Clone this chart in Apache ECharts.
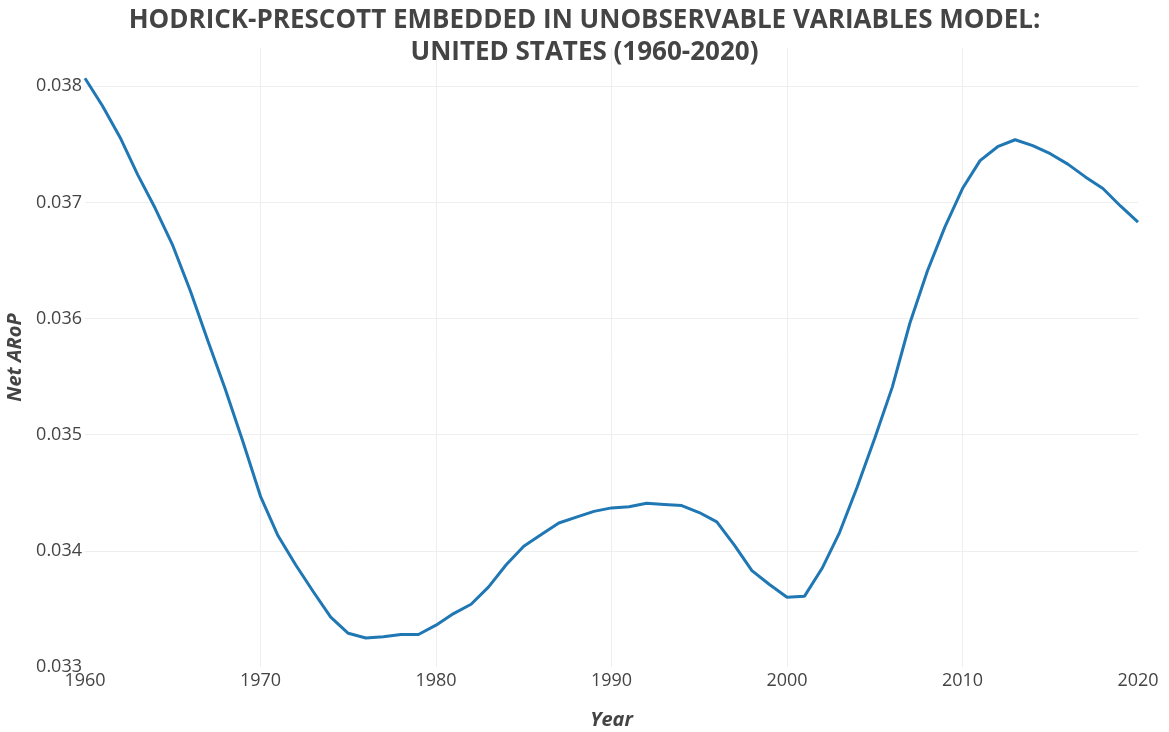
<!DOCTYPE html>
<html>
<head>
<meta charset="utf-8">
<script src="https://cdn.jsdelivr.net/npm/echarts@6/dist/echarts.min.js"></script>
<style>
  html, body { margin: 0; padding: 0; background: #fff; }
  #chart { width: 1169px; height: 732px; }
</style>
</head>
<body>
<div id="chart"></div>
<script>
const years = [];
for (let y = 1960; y <= 2020; y++) years.push(y);

// Net ARoP, HP trend
const netArop = [
  0.03807, 0.03783, 0.03756, 0.03724, 0.03695, 0.03663, 0.03624, 0.03581, 0.03539, 0.03494,
  0.03447, 0.03413, 0.03388, 0.03365, 0.03343, 0.03329, 0.03325, 0.03326, 0.03328, 0.03328,
  0.03336, 0.03346, 0.03354, 0.03369, 0.03388, 0.03404, 0.03414, 0.03424, 0.03429, 0.03434,
  0.03437, 0.03438, 0.03441, 0.03440, 0.03439, 0.03433, 0.03425, 0.03405, 0.03383, 0.03371,
  0.03360, 0.03361, 0.03385, 0.03416, 0.03455, 0.03497, 0.03541, 0.03596, 0.03641, 0.03679,
  0.03712, 0.03736, 0.03748, 0.03754, 0.03749, 0.03742, 0.03733, 0.03722, 0.03712, 0.03697,
  0.03683
];

const yTicks = [0.033, 0.034, 0.035, 0.036, 0.037, 0.038];

const chart = echarts.init(document.getElementById('chart'));

chart.setOption({
  animation: false,
  textStyle: { fontFamily: 'Open Sans' },
  title: {
    text: 'HODRICK-PRESCOTT EMBEDDED IN UNOBSERVABLE VARIABLES MODEL:\nUNITED STATES (1960-2020)',
    left: 'center',
    top: 0,
    textStyle: {
      fontFamily: 'Open Sans',
      fontWeight: 'bold',
      fontSize: 26,
      lineHeight: 32,
      color: '#444'
    }
  },
  grid: { left: 85, right: 31, top: 48, bottom: 65, outerBoundsMode: 'none' },
  xAxis: {
    type: 'value',
    min: 1960,
    max: 2020,
    interval: 10,
    name: 'Year',
    nameLocation: 'middle',
    nameGap: 43,
    nameTextStyle: { fontSize: 20, fontWeight: 'bold', fontStyle: 'italic', color: '#444' },
    axisLine: { show: false },
    axisTick: { show: false },
    axisLabel: { fontSize: 18, color: '#444', margin: 5, formatter: v => String(v) },
    splitLine: { show: true, showMinLine: false, showMaxLine: false, lineStyle: { color: '#eee', width: 1 } }
  },
  yAxis: {
    type: 'value',
    min: 0.033,
    max: 0.03833,
    interval: 0.001,
    name: 'Net ARoP',
    nameLocation: 'middle',
    nameGap: 54,
    nameTextStyle: { fontSize: 20, fontWeight: 'bold', fontStyle: 'italic', color: '#444' },
    axisLine: { show: false },
    axisTick: { show: false },
    axisLabel: {
      fontSize: 18,
      color: '#444',
      margin: 3,
      formatter: function (v) {
        const hit = yTicks.find(t => Math.abs(t - v) < 1e-9);
        return hit !== undefined ? hit.toFixed(3) : '';
      }
    },
    splitLine: { show: true, showMinLine: false, showMaxLine: false, lineStyle: { color: '#eee', width: 1 } }
  },
  series: [{
    type: 'line',
    data: years.map((y, i) => [y, netArop[i]]),
    showSymbol: false,
    symbol: 'none',
    lineStyle: { color: '#1f77b4', width: 3 },
    clip: false
  }]
});
</script>
</body>
</html>
